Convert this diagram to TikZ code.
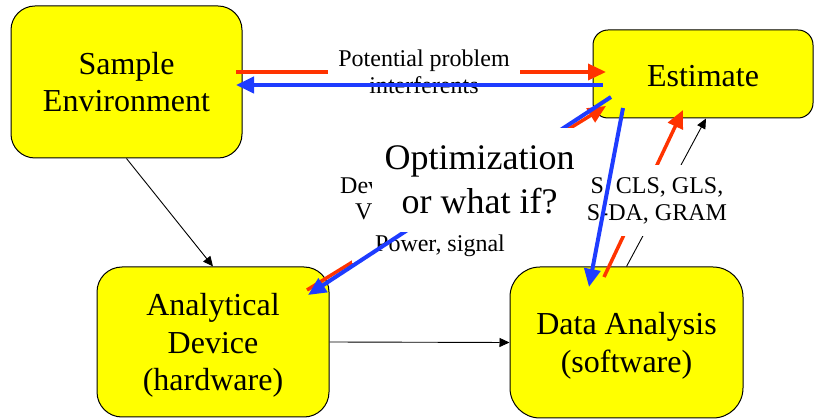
\documentclass[tikz,border=0pt]{standalone}
\usepackage{fontspec}
\setmainfont{Liberation Serif}
\usetikzlibrary{arrows.meta}
\definecolor{boxyellow}{RGB}{255,255,0}
\definecolor{ared}{RGB}{255,51,0}
\definecolor{ablue}{RGB}{30,60,255}
\begin{document}
\begin{tikzpicture}[x=1pt,y=-1pt,
 box/.style={draw=black, line width=1pt, fill=boxyellow, align=center, font=\fontsize{32}{37.5}\selectfont, inner sep=0pt},
 lab/.style={fill=white, align=center, inner sep=0pt, font=\fontsize{24}{27}\selectfont},
 blk/.style={draw=black, line width=0.9pt, -{Triangle[length=10pt,width=9pt]}},
 redarr/.style={draw=ared, line width=3.5pt, -{Triangle[length=18pt,width=16pt]}},
 bluearr/.style={draw=ablue, line width=4pt, -{Triangle[length=18pt,width=16pt]}},
 optbox/.style={fill=white, inner sep=0pt, align=center, font=\fontsize{36}{44}\selectfont}
]
\useasboundingbox (0,0) rectangle (814,419);
% boxes
\node[box, rounded corners=24pt, minimum width=231pt, minimum height=152pt] (se) at (126.5,82) {Sample\\Environment};
\node[box, rounded corners=15pt, minimum width=220pt, minimum height=88pt] (est) at (703,74) {\rule{0pt}{25pt}Estimate};
\node[box, rounded corners=25pt, minimum width=232pt, minimum height=150pt] (ad) at (213,342) {\rule{0pt}{29pt}Analytical\\Device\\(hardware)};
\node[box, rounded corners=30pt, minimum width=233pt, minimum height=151pt] (da) at (626.5,342.5) {\rule{0pt}{29pt}Data Analysis\\(software)};
% black connectors
\draw[blk] (se.south) -- (ad.north);
\draw[blk] (ad.east) -- (da.west);
\draw[blk] (da.north) -- ([xshift=3pt]est.south);
% connector end points inside the boxes
\coordinate (r1s) at (236,72);  \coordinate (r1e) at (606,72);
\coordinate (r2s) at (307,290); \coordinate (r2e) at (606,106);
\coordinate (r3s) at (604,277); \coordinate (r3e) at (683,110);
\coordinate (b1s) at (603,85);  \coordinate (b1e) at (236,85);
\coordinate (b2s) at (611,97);  \coordinate (b2e) at (308,295);
\coordinate (b3s) at (623,108); \coordinate (b3e) at (589,287);
% red connectors
\draw[redarr] (r1s) -- (r1e);
\draw[redarr] (r2s) -- (r2e);
\draw[redarr] (r3s) -- (r3e);
% labels
\node[lab, minimum width=192pt, minimum height=50pt] (pp) at (424,72) {Potential problem\\interferents};
\node[lab, minimum width=145pt, minimum height=71pt] (cls) at (657,200.5) {S, CLS, GLS,\\S-DA, GRAM};
\node[lab, minimum width=176pt, minimum height=35pt] (ps) at (440,245.5) {Power, signal};
\node[lab, anchor=base west] (dev) at (340,194) {Dev};
\node[lab, anchor=base west] (vv) at (355,220) {V};
% blue connectors
\draw[bluearr] (b1s) -- (b1e);
\draw[bluearr] (b2s) -- (b2e);
\draw[bluearr] (b3s) -- (b3e);
% big overlay text
\node[optbox, minimum width=215pt, minimum height=104pt] (opt) at (479.5,180) {Optimization\\or what if?};
\end{tikzpicture}
\end{document}
